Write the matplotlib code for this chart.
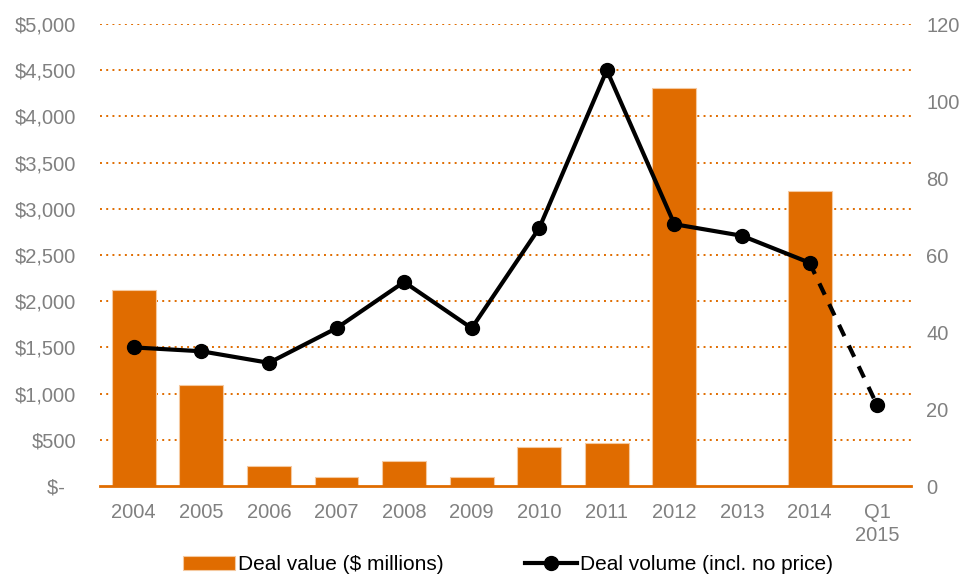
import matplotlib.pyplot as plt
import numpy as np

plt.rcParams['font.family'] = ['Liberation Sans', 'DejaVu Sans']

# ---- DATA ----
categories = ["2004", "2005", "2006", "2007", "2008", "2009", "2010",
              "2011", "2012", "2013", "2014", "Q1\n2015"]
deal_value = [2120, 1090, 215, 95, 270, 95, 420, 465, 4310, 0, 3190, 0]
deal_volume = [36, 35, 32, 41, 53, 41, 67, 108, 68, 65, 58, 21]
left_ticks = [0, 500, 1000, 1500, 2000, 2500, 3000, 3500, 4000, 4500, 5000]
left_labels = ["$-  ", "$500", "$1,000", "$1,500", "$2,000", "$2,500",
               "$3,000", "$3,500", "$4,000", "$4,500", "$5,000"]
right_ticks = [0, 20, 40, 60, 80, 100, 120]

orange = "#E06C00"
grey = "#808080"

# ---- PLOT ----
fig = plt.figure(figsize=(9.67, 5.79), dpi=100)
ax = fig.add_axes([0.1034, 0.1606, 0.8386, 0.7979])
x = np.arange(len(categories))

ax.bar(x, deal_value, width=0.65, color=orange, edgecolor="#F5C9A0",
       linewidth=0.8, label="Deal value ($ millions)", zorder=2)
ax.set_ylim(0, 5000)
ax.set_xlim(-0.5, len(categories) - 0.5)
ax.set_yticks(left_ticks)
ax.set_yticklabels(left_labels)
for t in left_ticks[1:]:
    ax.axhline(t, color=orange, linestyle=(0, (1, 2.2)), linewidth=1.4, zorder=1)

ax.set_xticks(x)
ax.set_xticklabels(categories, linespacing=1.3)
ax.tick_params(axis="both", length=0, labelsize=14.5, labelcolor=grey)
ax.tick_params(axis="x", pad=12)
ax.tick_params(axis="y", pad=17)
for s in ["top", "right", "left"]:
    ax.spines[s].set_visible(False)
ax.spines["bottom"].set_color(orange)
ax.spines["bottom"].set_linewidth(2)

ax2 = ax.twinx()
ax2.set_ylim(0, 120)
ax2.set_yticks(right_ticks)
ax2.plot(x[:-1], deal_volume[:-1], color="black", linewidth=3, marker="o",
         markersize=10, label="Deal volume (incl. no price)", zorder=3)
ax2.plot(x[-2:], deal_volume[-2:], color="black", linewidth=3,
         linestyle=(0, (3, 2.5)), zorder=3)
ax2.plot(x[-1], deal_volume[-1], "o", color="black", markersize=10, zorder=3)
ax2.tick_params(axis="both", length=0, labelsize=14.5, labelcolor=grey)
ax2.tick_params(axis="y", pad=11)
for s in ax2.spines.values():
    s.set_visible(False)

h1, l1 = ax.get_legend_handles_labels()
h2, l2 = ax2.get_legend_handles_labels()
fig.legend(h1 + h2, l1 + l2, loc="lower center", bbox_to_anchor=(0.525, -0.024),
           ncol=2, frameon=False, fontsize=15, columnspacing=3.9,
           handlelength=2.5, handletextpad=0.15)

plt.savefig("out.png", dpi=100)
